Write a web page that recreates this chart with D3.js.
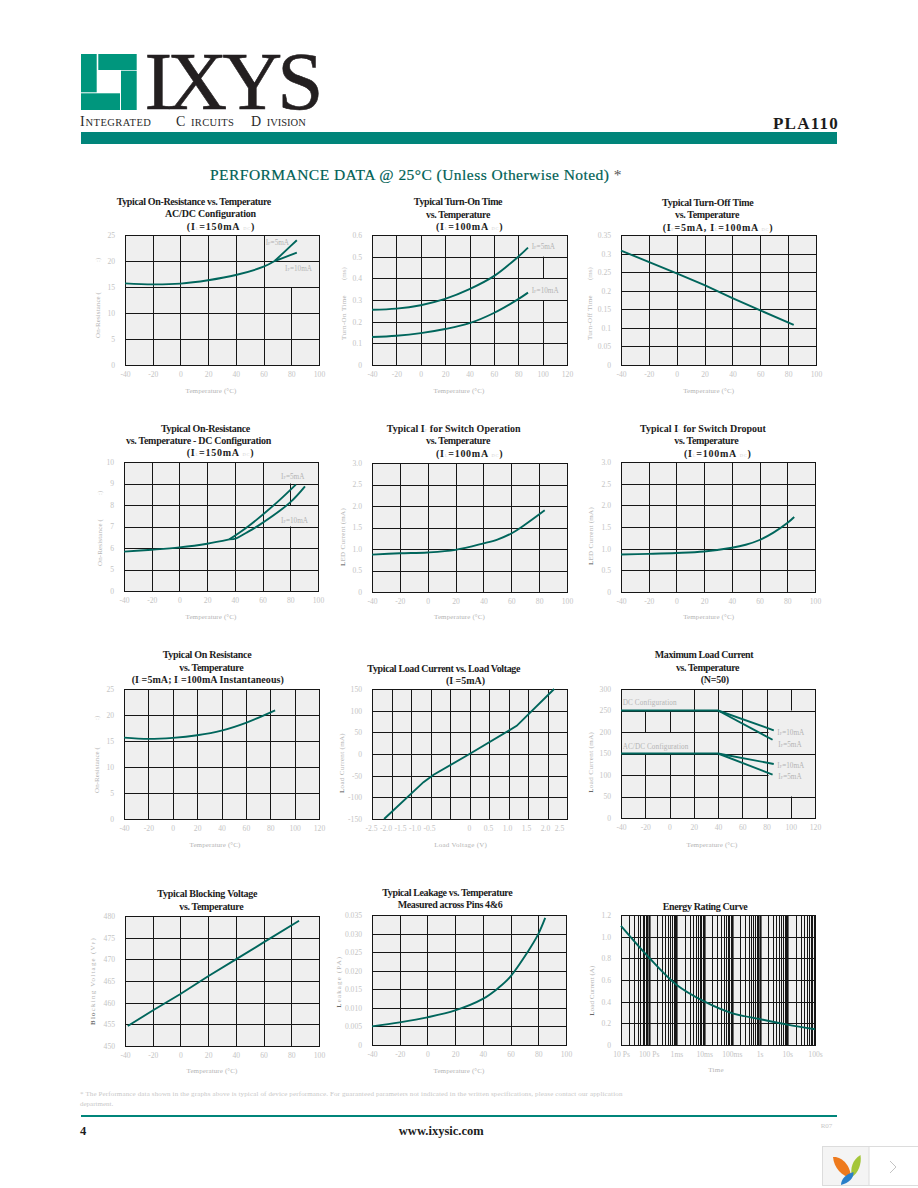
<!DOCTYPE html>
<html>
<head>
<meta charset="utf-8">
<script src="https://cdn.jsdelivr.net/npm/d3@7"></script>
<style>
  html, body { margin: 0; background: #fff; }
  svg { display: block; }
  text { font-family: "Liberation Serif", serif; }
</style>
</head>
<body>
<svg id="page" width="918" height="1188"></svg>
<script>
// axis ticks
const tempTo100 = [-40, -20, 0, 20, 40, 60, 80, 100];
const tempTo120 = [-40, -20, 0, 20, 40, 60, 80, 100, 120];
const onRes25 = [0, 5, 10, 15, 20, 25];
const onRes10 = [0, 5, 6, 7, 8, 9, 10];
const turnOnTicks = [0, 0.1, 0.2, 0.3, 0.4, 0.5, 0.6];
const turnOffTicks = [0, 0.05, 0.1, 0.15, 0.2, 0.25, 0.3, 0.35];
const ledTicks = [0, 0.5, 1, 1.5, 2, 2.5, 3];
const voltGrid = [-2.5, -2, -1.5, -1, -0.5, 0, 0.5, 1, 1.5, 2, 2.5];
const voltLabels = [-2.5, -2, -1.5, -1, -0.5, 0, 0.5, 1, 1.5, 2, 2.5];
const loadTicks = [-150, -100, -50, 0, 50, 100, 150];
const maxLoadTicks = [0, 50, 100, 150, 200, 250, 300];
const blockTicks = [450, 455, 460, 465, 470, 475, 480];
const leakTicks = [0, 0.005, 0.01, 0.015, 0.02, 0.025, 0.03, 0.035];
const energyTicks = [0, 0.2, 0.4, 0.6, 0.8, 1, 1.2];
const timeDecades = [1e-5, 1e-4, 1e-3, 1e-2, 1e-1, 1, 10, 100];
const timeLabels = ["10 Ps", "100 Ps", "1ms", "10ms", "100ms", "1s", "10s", "100s"];

// curves, [x, y]
const p1Common = [[-40, 15.7], [-20, 15.5], [0, 15.65], [20, 16.3], [40, 17.3], [60, 18.9], [68, 20]];
const p1If5 = [[68, 20], [76, 22], [84, 24]];
const p1If10 = [[68, 20], [76, 20.8], [84, 21.6]];
const p2If5 = [[-40, 0.255], [-20, 0.26], [0, 0.276], [20, 0.305], [40, 0.35], [60, 0.41], [80, 0.5], [88, 0.542]];
const p2If10 = [[-40, 0.129], [-20, 0.135], [0, 0.147], [20, 0.166], [40, 0.193], [60, 0.24], [80, 0.304], [88, 0.334]];
const p3Off = [[-40, 0.308], [0, 0.247], [20, 0.215], [40, 0.18], [60, 0.147], [84, 0.108]];
const p4Common = [[-40, 5.83], [-20, 5.92], [0, 6.03], [20, 6.2], [36, 6.4]];
const p4If5 = [[36, 6.4], [49.5, 7], [70, 8.1], [84, 8.95]];
const p4If10 = [[36, 6.4], [41, 6.45], [48, 6.7], [56.7, 7.03], [79.5, 8.1], [90.6, 8.87]];
const p5Led = [[-40, 0.87], [-20, 0.9], [0, 0.92], [20, 0.98], [40, 1.13], [50, 1.22], [60, 1.36], [70, 1.57], [84, 1.9]];
const p6Led = [[-40, 0.865], [-20, 0.88], [0, 0.9], [20, 0.935], [40, 1.02], [50, 1.09], [60, 1.2], [70, 1.37], [80, 1.59], [85, 1.73]];
const p7Res = [[-40, 15.64], [-20, 15.4], [0, 15.6], [20, 16.1], [40, 17], [60, 18.5], [84, 20.9]];
const p8Load = [[-2.19, -150], [-1.18, -65], [-0.92, -48], [0, 0], [1.21, 65], [2.17, 150]];
const p9DcFlat = [[-40, 250], [40, 250]];
const p9Dc10 = [[40, 250], [86, 204]];
const p9Dc5 = [[40, 250], [85, 182]];
const p9AcFlat = [[-40, 150], [40, 150]];
const p9Ac10 = [[40, 150], [86, 125.6]];
const p9Ac5 = [[40, 150], [85, 101]];
const p10Block = [[-38, 454.6], [-20, 458.2], [0, 462], [20, 466.1], [40, 470], [60, 473.9], [85.6, 478.9]];
const p11Leak = [[-40, 0.005], [-20, 0.0061], [0, 0.00745], [20, 0.0093], [40, 0.0124], [51, 0.0153], [59.4, 0.0182], [72.6, 0.0252], [79.8, 0.0297], [85, 0.0342]];
const p12Energy = [[1e-5, 1.1], [1e-4, 0.81], [1e-3, 0.557], [1e-2, 0.403], [1e-1, 0.295], [1, 0.24], [10, 0.188], [100, 0.145]];

const teal = "#00665c", gridCol = "#161616", plotBg = "#efefef", tickCol = "#c4c4c4", labelCol = "#b4b4b4";
const svg = d3.select("#page");
const plain = d => String(d);
const oneDec = d => d === 0 ? "0" : d3.format(".1f")(d);
const threeDec = d => d === 0 ? "0" : d3.format(".3f")(d);

const panels = [
  { box: [125, 319, 235, 365], xTicks: tempTo100, yTicks: onRes25, yFmt: plain,
    series: [p1Common, p1If5, p1If10],
    title: [["Typical On-Resistance vs. Temperature", 193.8, 205, 154.3], ["AC/DC Configuration", 210.5, 217, 91], ["(I{L}=150mA {DC})", 221, 229.5, 68.3]],
    xTitle: ["Temperature (°C)", 211, 392.5, 51], yTitle: ["On-Resistance (", 97, 338, 46, ":)", 262, 0],
    cutsV: [[80, 15, 25]],
    notes: [["I{F}=5mA", 265.7, 245], ["I{F}=10mA", 285, 271]] },
  { box: [372, 567, 235, 365], xTicks: tempTo120, yTicks: turnOnTicks, yFmt: oneDec,
    series: [p2If5, p2If10],
    title: [["Typical Turn-On Time", 458, 205, 88.3], ["vs. Temperature", 458, 218, 64], ["(I{L}=100mA {DC})", 469.7, 230, 67.3]],
    xTitle: ["Temperature (°C)", 459, 392.5, 51], yTitle: ["Turn-On  Time", 343.3, 340, 45, "(ms)", 280, 0],
    cutsV: [[100, 0.5, 0.6], [100, 0.3, 0.4]],
    notes: [["I{F}=5mA", 531.7, 248.5], ["I{F}=10mA", 531.7, 292.5]] },
  { box: [621, 816, 235, 365], xTicks: tempTo100, yTicks: turnOffTicks, yFmt: plain, straight: true,
    series: [p3Off],
    title: [["Typical Turn-Off Time", 707.7, 206, 91.3], ["vs. Temperature", 707, 218, 64], ["(I{F}=5mA, I{L}=100mA {DC})", 718, 231, 110.7]],
    xTitle: ["Temperature (°C)", 708.7, 392.5, 51], yTitle: ["Turn-Off  Time", 589, 340, 45, "(ms)", 280, 0] },
  { box: [124, 318, 462, 591], xTicks: tempTo100, yTicks: onRes10, yFmt: plain, yEven: true,
    series: [p4Common, p4If5, p4If10],
    title: [["Typical On-Resistance", 205.5, 431.7, 89], ["vs. Temperature - DC Configuration", 198.5, 444, 145], ["(I{L}=150mA {DC})", 220.5, 456.3, 67.7]],
    xTitle: ["Temperature (°C)", 211, 619, 51], yTitle: ["On-Resistance (", 99.3, 566, 47, ":)", 495, 0],
    cutsV: [[80, 9, 10], [80, 7, 8]],
    notes: [["I{F}=5mA", 281, 478.5], ["I{F}=10mA", 281, 522.5]] },
  { box: [372, 567, 463, 592], xTicks: tempTo100, yTicks: ledTicks, yFmt: oneDec,
    series: [p5Led],
    title: [["Typical I{F} for Switch Operation", 453.7, 431.7, 134], ["vs. Temperature", 458, 444, 64], ["(I{L}=100mA {DC})", 469.7, 457.3, 67.3]],
    xTitle: ["Temperature (°C)", 459.5, 619, 51], yTitle: ["LED Current (mA)", 342.7, 566, 58, "", 0, 1] },
  { box: [621, 815, 462, 592], xTicks: tempTo100, yTicks: ledTicks, yFmt: oneDec,
    series: [p6Led],
    title: [["Typical I{F} for Switch Dropout", 703, 431.7, 126], ["vs. Temperature", 706.3, 444, 64], ["(I{L}=100mA {DC})", 717.8, 457, 67.7]],
    xTitle: ["Temperature (°C)", 708.7, 619, 51], yTitle: ["LED Current (mA)", 590.7, 565, 58, "", 0, 1] },
  { box: [124, 319, 689, 819], xTicks: tempTo120, yTicks: onRes25, yFmt: plain,
    series: [p7Res],
    title: [["Typical On Resistance", 207, 657.7, 88.7], ["vs. Temperature", 211.3, 670.7, 64], ["(I{F}=5mA; I{L}=100mA Instantaneous)", 207.8, 683, 152.3]],
    xTitle: ["Temperature (°C)", 215, 846.5, 51], yTitle: ["On-Resistance (", 96.7, 793, 46, ":)", 720, 0] },
  { box: [372, 567, 689, 819], xDomain: [-2.5, 2.5], xTicks: voltGrid, yTicks: loadTicks, yFmt: plain, straight: true,
    xLabelScale: d3.scaleLinear().domain([-2.5, -0.5, 0, 2, 2.5]).range([371, 429, 469, 545, 559]),
    xLabels: voltLabels, xFmt: d => d === 0 ? "0" : d.toFixed(1),
    series: [p8Load],
    title: [["Typical Load Current vs. Load Voltage", 443.7, 672, 152.7], ["(I{F}=5mA)", 465.5, 684, 39]],
    xTitle: ["Load Voltage (V)", 460.7, 846.5, 53], yTitle: ["Load Current (mA)", 341.7, 793, 60, "", 0, 1] },
  { box: [621, 815, 689, 818], xTicks: tempTo120, yTicks: maxLoadTicks, yFmt: plain, straight: true,
    series: [p9DcFlat, p9Dc10, p9Dc5, p9AcFlat, p9Ac10, p9Ac5],
    title: [["Maximum Load Current", 704, 657.7, 98.3], ["vs. Temperature", 707.5, 670.7, 63], ["(N=50)", 714.8, 683, 28.3]],
    xTitle: ["Temperature (°C)", 712, 846.5, 51], yTitle: ["Load Current (mA)", 590, 792.7, 61, "", 0, 1],
    cutsV: [[-20, 250, 300], [0, 250, 300], [-20, 150, 200], [0, 150, 200], [100, 50, 250]],
    cutsH: [[200, 80, 120], [100, 80, 120]],
    notes: [["I{F}=10mA", 777.3, 735], ["I{F}=5mA", 778.3, 746.5], ["I{F}=10mA", 777.3, 768], ["I{F}=5mA", 778.3, 779],
            ["DC Configuration", 622.7, 705, 54], ["AC/DC Configuration", 622.7, 748.5, 65.7]] },
  { box: [125, 319, 916, 1046], xTicks: tempTo100, yTicks: blockTicks, yFmt: plain, straight: true,
    series: [p10Block],
    title: [["Typical Blocking Voltage", 207.3, 896.7, 100], ["vs. Temperature", 211.3, 910, 64]],
    xTitle: ["Temperature (°C)", 212, 1073, 51], yTitle: ["Blocking Voltage (V{P})", 92.7, 1025, 88, "", 0, 3] },
  { box: [372, 566, 915, 1045], xTicks: tempTo100, yTicks: leakTicks, yFmt: threeDec,
    series: [p11Leak],
    title: [["Typical Leakage vs. Temperature", 447.3, 895.7, 130], ["Measured across Pins 4&6", 450, 908.3, 104.7]],
    xTitle: ["Temperature (°C)", 459, 1073, 51], yTitle: ["Leakage (PA)", 338.3, 1007.7, 52, "", 0, 1] },
  { box: [621, 815, 915, 1045], log: true, xTicks: timeDecades, yTicks: energyTicks, yFmt: oneDec,
    xLabels: timeDecades, xFmt: (d, i) => timeLabels[i],
    series: [p12Energy],
    title: [["Energy Rating Curve", 705, 910, 84.7]],
    xTitle: ["Time", 716, 1072, 15.7], yTitle: ["Load Current (A)", 591.7, 1015.7, 50, "", 0, 1] }
];

// {..} marks the pale tiny subscripts
function addRich(sel, str, smallCol, smallSize) {
  str.split(/(\{[^}]*\})/).filter(s => s !== "").forEach(s => {
    const sub = s[0] === "{";
    const t = sel.append("tspan").text(sub ? s.slice(1, -1) : s);
    if (sub) t.attr("font-size", smallSize).attr("fill", smallCol).attr("font-weight", "normal");
  });
}

// squeeze a text to the width measured on the picture
function fit(sel, w) {
  const node = sel.node();
  const n = node.getNumberOfChars();
  const len = node.getComputedTextLength();
  sel.attr("letter-spacing", ((w - len) / n).toFixed(3));
}

function drawPanel(p) {
  const [l, r, t, b] = p.box;
  const x = p.log
    ? d3.scaleLog().domain([1e-5, 100]).range([l, r])
    : d3.scaleLinear().domain(p.xDomain || d3.extent(p.xTicks)).range([l, r]);
  const y = p.yEven
    ? d3.scaleLinear().domain(p.yTicks).range(p.yTicks.map((d, i) => b + (t - b) * i / (p.yTicks.length - 1)))
    : d3.scaleLinear().domain(d3.extent(p.yTicks)).range([b, t]);
  const crisp = v => Math.round(v) + 0.5;
  const g = svg.append("g");

  g.append("rect").attr("x", l).attr("y", t).attr("width", r - l).attr("height", b - t).attr("fill", plotBg);

  const vTicks = p.log ? x.ticks() : p.xTicks;
  const gridV = vTicks.filter(d => d > x.domain()[0] && d < x.domain()[1]);
  const gridH = p.yTicks.slice(1, -1);
  const decade = d => p.log && timeDecades.includes(d);

  g.selectAll(".gv").data(gridV).enter().append("line")
    .attr("x1", d => crisp(x(d))).attr("x2", d => crisp(x(d)))
    .attr("y1", t).attr("y2", b)
    .attr("stroke", gridCol).attr("stroke-width", d => decade(d) ? 2.2 : 1);

  // parts of the grid that the original leaves out behind its labels
  g.selectAll(".cv").data(p.cutsV || []).enter().append("line")
    .attr("x1", d => crisp(x(d[0]))).attr("x2", d => crisp(x(d[0])))
    .attr("y1", d => y(d[1])).attr("y2", d => y(d[2]))
    .attr("stroke", plotBg).attr("stroke-width", 1.4);

  g.selectAll(".gh").data(gridH).enter().append("line")
    .attr("x1", l).attr("x2", r)
    .attr("y1", d => crisp(y(d))).attr("y2", d => crisp(y(d)))
    .attr("stroke", gridCol).attr("stroke-width", 1);

  g.selectAll(".ch").data(p.cutsH || []).enter().append("line")
    .attr("x1", d => crisp(x(d[1])) + 1).attr("x2", d => Math.min(crisp(x(d[2])), r))
    .attr("y1", d => crisp(y(d[0]))).attr("y2", d => crisp(y(d[0])))
    .attr("stroke", plotBg).attr("stroke-width", 1.4);

  g.append("rect").attr("x", l + 0.5).attr("y", t + 0.5).attr("width", r - l).attr("height", b - t)
    .attr("fill", "none").attr("stroke", gridCol).attr("stroke-width", 1);

  const line = d3.line().x(d => x(d[0])).y(d => y(d[1]))
    .curve(p.straight ? d3.curveLinear : d3.curveCatmullRom.alpha(0.5));
  g.selectAll(".curve").data(p.series).enter().append("path")
    .attr("d", line).attr("fill", "none").attr("stroke", teal).attr("stroke-width", 1.9);

  // tick labels
  const xAxis = d3.axisBottom(p.xLabelScale || x)
    .tickValues(p.xLabels || p.xTicks).tickSize(0).tickPadding(7)
    .tickFormat(p.xFmt || plain);
  const yAxis = d3.axisLeft(y).tickValues(p.yTicks).tickSize(0).tickPadding(10).tickFormat(p.yFmt);
  [g.append("g").attr("transform", `translate(0,${b})`).call(xAxis),
   g.append("g").attr("transform", `translate(${l},0)`).call(yAxis)].forEach(a => {
    a.select(".domain").remove();
    a.attr("font-family", null).attr("font-size", 7.6);
    a.selectAll("text").attr("fill", tickCol);
  });

  // titles
  p.title.forEach(([txt, cx, by, w]) => {
    const tx = g.append("text").attr("x", cx).attr("y", by).attr("text-anchor", "middle")
      .attr("font-size", 10).attr("font-weight", "bold").attr("fill", "#1c1c1c");
    addRich(tx, txt, "#d4d4d4", 4.5);
    fit(tx, w);
  });

  const [xt, xx, xy, xw] = p.xTitle;
  const xLab = g.append("text").attr("x", xx).attr("y", xy).attr("text-anchor", "middle")
    .attr("font-size", 7).attr("fill", labelCol).text(xt);
  fit(xLab, xw);

  // rotated label, its first letters come out darker in the original
  const [yt, yx, yb, yw, extra, extraY, dark] = p.yTitle;
  const yLab = g.append("text").attr("transform", `translate(${yx + 2.5},${yb}) rotate(-90)`)
    .attr("font-size", 7).attr("fill", labelCol);
  if (dark) yLab.append("tspan").attr("fill", "#444").text(yt.slice(0, dark));
  addRich(yLab, yt.slice(dark), labelCol, 4.5);
  fit(yLab, yw);
  if (extra) {
    g.append("text").attr("transform", `translate(${yx + 2.5},${extraY}) rotate(-90)`)
      .attr("font-size", 7).attr("fill", tickCol).text(extra);
  }

  (p.notes || []).forEach(([txt, nx, ny, w]) => {
    const n = g.append("text").attr("x", nx).attr("y", ny).attr("font-size", 7.2).attr("fill", labelCol);
    addRich(n, txt, labelCol, 4.5);
    if (w) fit(n, w);
  });
}

function drawHeader() {
  const logo = "#00967d";
  [[81, 54, 15.7, 38.3], [98.3, 54, 38.4, 16], [121, 70.7, 15.7, 39.3], [81, 93.3, 39, 16.7]].forEach(([rx, ry, w, h]) => {
    svg.append("rect").attr("x", rx).attr("y", ry).attr("width", w).attr("height", h).attr("fill", logo);
  });
  const ixys = svg.append("text").attr("x", 144.5).attr("y", 109).attr("font-size", 83)
    .attr("fill", "#231f20").attr("stroke", "#231f20").attr("stroke-width", 0.6).text("IXYS");
  fit(ixys, 174);

  // small caps strap line as one text, each piece pushed along with dx
  const strap = svg.append("text").attr("x", 80).attr("y", 125.7).attr("fill", "#2a2a2a");
  [["I", 80, 14, 0], ["NTEGRATED", 85.5, 10.5, 0.45], ["C", 176, 14, 0], ["IRCUITS", 191, 10.5, 0.35], ["D", 251, 14, 0], ["IVISION", 266.7, 10.5, 0]]
    .forEach(([txt, tx, fs, ls]) => {
      const node = strap.node();
      const n = node.getNumberOfChars();
      const end = n ? node.getEndPositionOfChar(n - 1).x : 80;
      strap.append("tspan").attr("dx", (tx - end).toFixed(2)).attr("font-size", fs)
        .attr("letter-spacing", ls).text(txt);
    });

  const part = svg.append("text").attr("x", 773).attr("y", 129)
    .attr("font-size", 17).attr("font-weight", "bold").attr("fill", "#1c1c1c").text("PLA110");
  fit(part, 66);
  svg.append("rect").attr("x", 81).attr("y", 132).attr("width", 756).attr("height", 12).attr("fill", "#00857a");

  const head = svg.append("text").attr("x", 210).attr("y", 180).attr("font-size", 15.5).attr("fill", "#005f55")
    .attr("stroke", "#005f55").attr("stroke-width", 0.2)
    .text("PERFORMANCE DATA @ 25°C (Unless Otherwise Noted) ");
  head.append("tspan").attr("fill", "#555").attr("stroke", "none").text("*");
  fit(head, 412);
}

function drawFooter() {
  const n1 = svg.append("text").attr("x", 80).attr("y", 1096).attr("font-size", 7).attr("fill", "#c8c8c8")
    .text("* The Performance data shown in the graphs above is typical of device performance.  For guaranteed parameters not indicated in the written specifications, please contact our application");
  fit(n1, 542.5);
  svg.append("text").attr("x", 80).attr("y", 1106).attr("font-size", 7).attr("fill", "#c8c8c8").text("department.");
  svg.append("rect").attr("x", 81).attr("y", 1115).attr("width", 756).attr("height", 2).attr("fill", "#00857a");
  svg.append("text").attr("x", 80).attr("y", 1135).attr("font-size", 12.5).attr("font-weight", "bold").attr("fill", "#1c1c1c").text("4");
  const site = svg.append("text").attr("x", 398.8).attr("y", 1135).attr("font-size", 12.5).attr("font-weight", "bold").attr("fill", "#1c1c1c").text("www.ixysic.com");
  fit(site, 85);
  svg.append("text").attr("x", 820.7).attr("y", 1128).attr("font-size", 7).attr("fill", "#c8c8c8").text("R07");

  // viewer badge in the corner of the scan
  svg.append("rect").attr("x", 822.5).attr("y", 1146.5).attr("width", 96).attr("height", 39).attr("fill", "#fff").attr("stroke", "#dcdcdc");
  svg.append("rect").attr("x", 823).attr("y", 1147).attr("width", 46).attr("height", 38).attr("fill", "#f4f4f4");
  svg.append("line").attr("x1", 869).attr("x2", 869).attr("y1", 1147).attr("y2", 1185).attr("stroke", "#dcdcdc");
  svg.append("path").attr("d", "M833 1157 C842 1156 851 1166 851 1178 C842 1176 834 1168 833 1157Z").attr("fill", "#ee7a1d");
  svg.append("path").attr("d", "M860.5 1155 C862 1164 858 1173 852 1177 C850 1169 852 1160 860.5 1155Z").attr("fill", "#a4c639");
  svg.append("path").attr("d", "M853.5 1172 C854 1178 849 1183 841 1185 C841 1179 846 1174 853.5 1172Z").attr("fill", "#2a7fc9");
  svg.append("path").attr("d", "M890 1161 L896 1167 L890 1173").attr("fill", "none").attr("stroke", "#c4c4c4");
}

drawHeader();
panels.forEach(drawPanel);
drawFooter();
</script>
</body>
</html>
